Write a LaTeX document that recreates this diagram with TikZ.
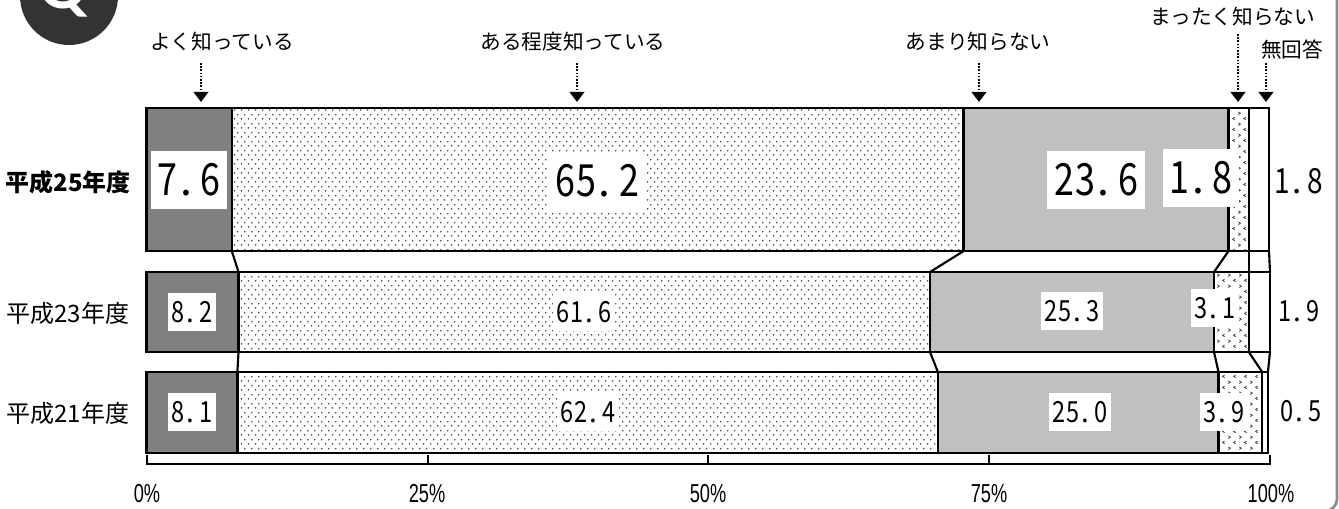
\documentclass[tikz,border=0pt]{standalone}
\usepackage{fontspec}
\usepackage{graphicx}
\setmainfont{Noto Sans CJK JP}
\newfontfamily\latof{Lato}
\newfontfamily\axisf{Liberation Sans}
\usetikzlibrary{patterns,arrows.meta}
\definecolor{c1}{HTML}{808080}
\definecolor{c3}{HTML}{C0C0C0}
\definecolor{dotc}{HTML}{484848}
\definecolor{qcol}{HTML}{333333}
\definecolor{framec}{HTML}{8C8C8C}
\pgfdeclarepatternformonly{mydots}{\pgfqpoint{0pt}{0pt}}{\pgfqpoint{5pt}{6.8pt}}{\pgfqpoint{5pt}{6.8pt}}{%
  \pgfpathcircle{\pgfqpoint{1.25pt}{1.7pt}}{0.72pt}%
  \pgfpathcircle{\pgfqpoint{3.75pt}{5.1pt}}{0.72pt}%
  \pgfusepath{fill}}
\pgfdeclarepatternformonly{chev}{\pgfqpoint{0pt}{0pt}}{\pgfqpoint{8pt}{8pt}}{\pgfqpoint{8pt}{8pt}}{%
  \pgfsetlinewidth{0.6pt}%
  \pgfpathmoveto{\pgfqpoint{1pt}{7pt}}\pgfpathlineto{\pgfqpoint{2.6pt}{6pt}}\pgfpathlineto{\pgfqpoint{1pt}{5pt}}%
  \pgfpathmoveto{\pgfqpoint{6.6pt}{3pt}}\pgfpathlineto{\pgfqpoint{5pt}{2pt}}\pgfpathlineto{\pgfqpoint{6.6pt}{1pt}}%
  \pgfusepath{stroke}}
% monospaced digits
\newcommand\mcell[1]{\ifx.#1\makebox[0.5em][l]{\hspace*{0.04em}.}\else\makebox[0.5em][c]{\scalebox{0.84}[1.04]{#1}}\fi}
\def\monodig#1{\monoaux#1\relax}
\def\monoaux#1{\ifx\relax#1\else\mcell{#1}\expandafter\monoaux\fi}
\newcommand\drawbar[8]{%
  \fill[c1] (#3,#1) rectangle (#4,#2);
  \fill[white] (#4,#1) rectangle (#5,#2);
  \fill[pattern=mydots,pattern color=dotc] (#4,#1) rectangle (#5,#2);
  \fill[c3] (#5,#1) rectangle (#6,#2);
  \fill[white] (#6,#1) rectangle (#7,#2);
  \fill[pattern=chev,pattern color=dotc] (#6,#1) rectangle (#7,#2);
  \draw[seg] (#3,#1) rectangle (#8,#2);
  \foreach \xx in {#4,#5,#6,#7} \draw[seg] (\xx,#1) -- (\xx,#2);
}
\tikzset{
  seg/.style={draw=black,line width=1.9pt},
  conn/.style={draw=black,line width=1.6pt},
  toplbl/.style={font=\fontsize{15.5}{17}\selectfont,inner sep=0pt},
  arr/.style={line width=1.3pt,dash pattern=on 1.2pt off 1.2pt,-{Triangle[width=11pt,length=7.5pt]}},
  rowlbl/.style={font=\fontsize{18}{20}\selectfont,inner sep=0pt},
  bigval/.style={fill=white,inner xsep=4.5pt,inner ysep=0pt,minimum height=44pt,font=\fontsize{32}{34}\selectfont},
  val/.style={fill=white,inner xsep=2.3pt,inner ysep=0pt,minimum height=28.5pt,font=\fontsize{21}{23}\selectfont},
  sideval/.style={inner sep=0pt,font=\fontsize{21}{23}\selectfont},
  axlbl/.style={inner sep=0pt,font=\axisf\fontsize{19.5}{21}\selectfont},
  axis/.style={draw=black,line width=1.5pt}
}
\begin{document}
\begin{tikzpicture}[x=0.75pt,y=-0.75pt]
\useasboundingbox (0,0) rectangle (1339,509);
\fill[white] (0,0) rectangle (1339,509);
% Q badge
\begin{scope}
\clip (0,0) rectangle (1339,509);
\fill[qcol] (69,-4) circle (49);
\node[text=white,anchor=base,inner sep=0pt,font=\latof\bfseries\fontsize{46}{46}\selectfont] (qq) at (63,9) {Q};
\draw[framec,line width=2pt,rounded corners=9pt] (1337,-5) -- (1337,511) -- (1280,511);
\end{scope}
% top labels and arrows
\node[toplbl] (t1) at (222,42) {よく知っている};
\node[toplbl] (t2) at (573,42) {ある程度知っている};
\node[toplbl] (t3) at (978,42) {あまり知らない};
\node[toplbl] (t4) at (1233,17) {まったく知らない};
\node[toplbl] (t5) at (1292,50) {無回答};
\coordinate (a1s) at (201,63); \coordinate (a1e) at (201,102);
\coordinate (a2s) at (577,63); \coordinate (a2e) at (577,102);
\coordinate (a3s) at (979,63); \coordinate (a3e) at (979,102);
\coordinate (a4s) at (1238,34); \coordinate (a4e) at (1238,102);
\coordinate (a5s) at (1266,63); \coordinate (a5e) at (1266,102);
\foreach \i in {1,...,5} \draw[arr] (a\i s) -- (a\i e);
% bars
\drawbar{108}{251}{146.5}{231.8}{963.7}{1228.6}{1248.8}{1269}
\drawbar{272}{352}{146.5}{238.5}{930}{1214}{1248.8}{1270}
\drawbar{372}{453}{146.5}{237.4}{937.9}{1218.5}{1262.2}{1267.9}
% connector coordinates
\foreach \i/\x in {1/231.8,2/963.7,3/1228.6,4/1248.8,5/1269} \coordinate (pa\i) at (\x,251);
\foreach \i/\x in {1/238.5,2/930,3/1214,4/1248.8,5/1270} {\coordinate (pb\i) at (\x,272); \coordinate (pc\i) at (\x,352);}
\foreach \i/\x in {1/237.4,2/937.9,3/1218.5,4/1262.2,5/1267.9} \coordinate (pd\i) at (\x,372);
\foreach \i in {1,...,5} {\draw[conn] (pa\i) -- (pb\i); \draw[conn] (pc\i) -- (pd\i);}
% row labels
\node[rowlbl,font=\fontsize{18}{20}\selectfont\bfseries] (r1) at (68,182) {平成25年度};
\node[rowlbl] (r2) at (68,313) {平成23年度};
\node[rowlbl] (r3) at (68,413) {平成21年度};
% values bar 1
\node[bigval] (v11) at (189,180) {\monodig{7.6}};
\node[bigval] (v12) at (597,181) {\monodig{65.2}};
\node[bigval] (v13) at (1096,180) {\monodig{23.6}};
\node[bigval] (v14) at (1201,178) {\monodig{1.8}};
\node[sideval,font=\fontsize{25}{27}\selectfont] (v15) at (1299,181) {\monodig{1.8}};
% values bar 2
\node[val] (v21) at (192,312) {\monodig{8.2}};
\node[val] (v22) at (584,312) {\monodig{61.6}};
\node[val] (v23) at (1072,311) {\monodig{25.3}};
\node[val] (v24) at (1215,308) {\monodig{3.1}};
\node[sideval] (v25) at (1299,311) {\monodig{1.9}};
% values bar 3
\node[val] (v31) at (192,412) {\monodig{8.1}};
\node[val] (v32) at (588,412) {\monodig{62.4}};
\node[val] (v33) at (1080,412) {\monodig{25.0}};
\node[val] (v34) at (1224,412) {\monodig{3.9}};
\node[sideval] (v35) at (1301,411) {\monodig{0.5}};
% axis
\draw[axis] (146.5,455) -- (146.5,464) -- (1270,464) -- (1270,455);
\foreach \x in {427.5,708.3,989.2} \draw[axis] (\x,464) -- (\x,455);
\node[axlbl] (x0) at (147,494) {\scalebox{0.7}[1]{0\%}};
\node[axlbl] (x1) at (427,494) {\scalebox{0.7}[1]{25\%}};
\node[axlbl] (x2) at (708,494) {\scalebox{0.7}[1]{50\%}};
\node[axlbl] (x3) at (989,494) {\scalebox{0.7}[1]{75\%}};
\node[axlbl] (x4) at (1271,494) {\scalebox{0.7}[1]{100\%}};
\end{tikzpicture}
\end{document}
